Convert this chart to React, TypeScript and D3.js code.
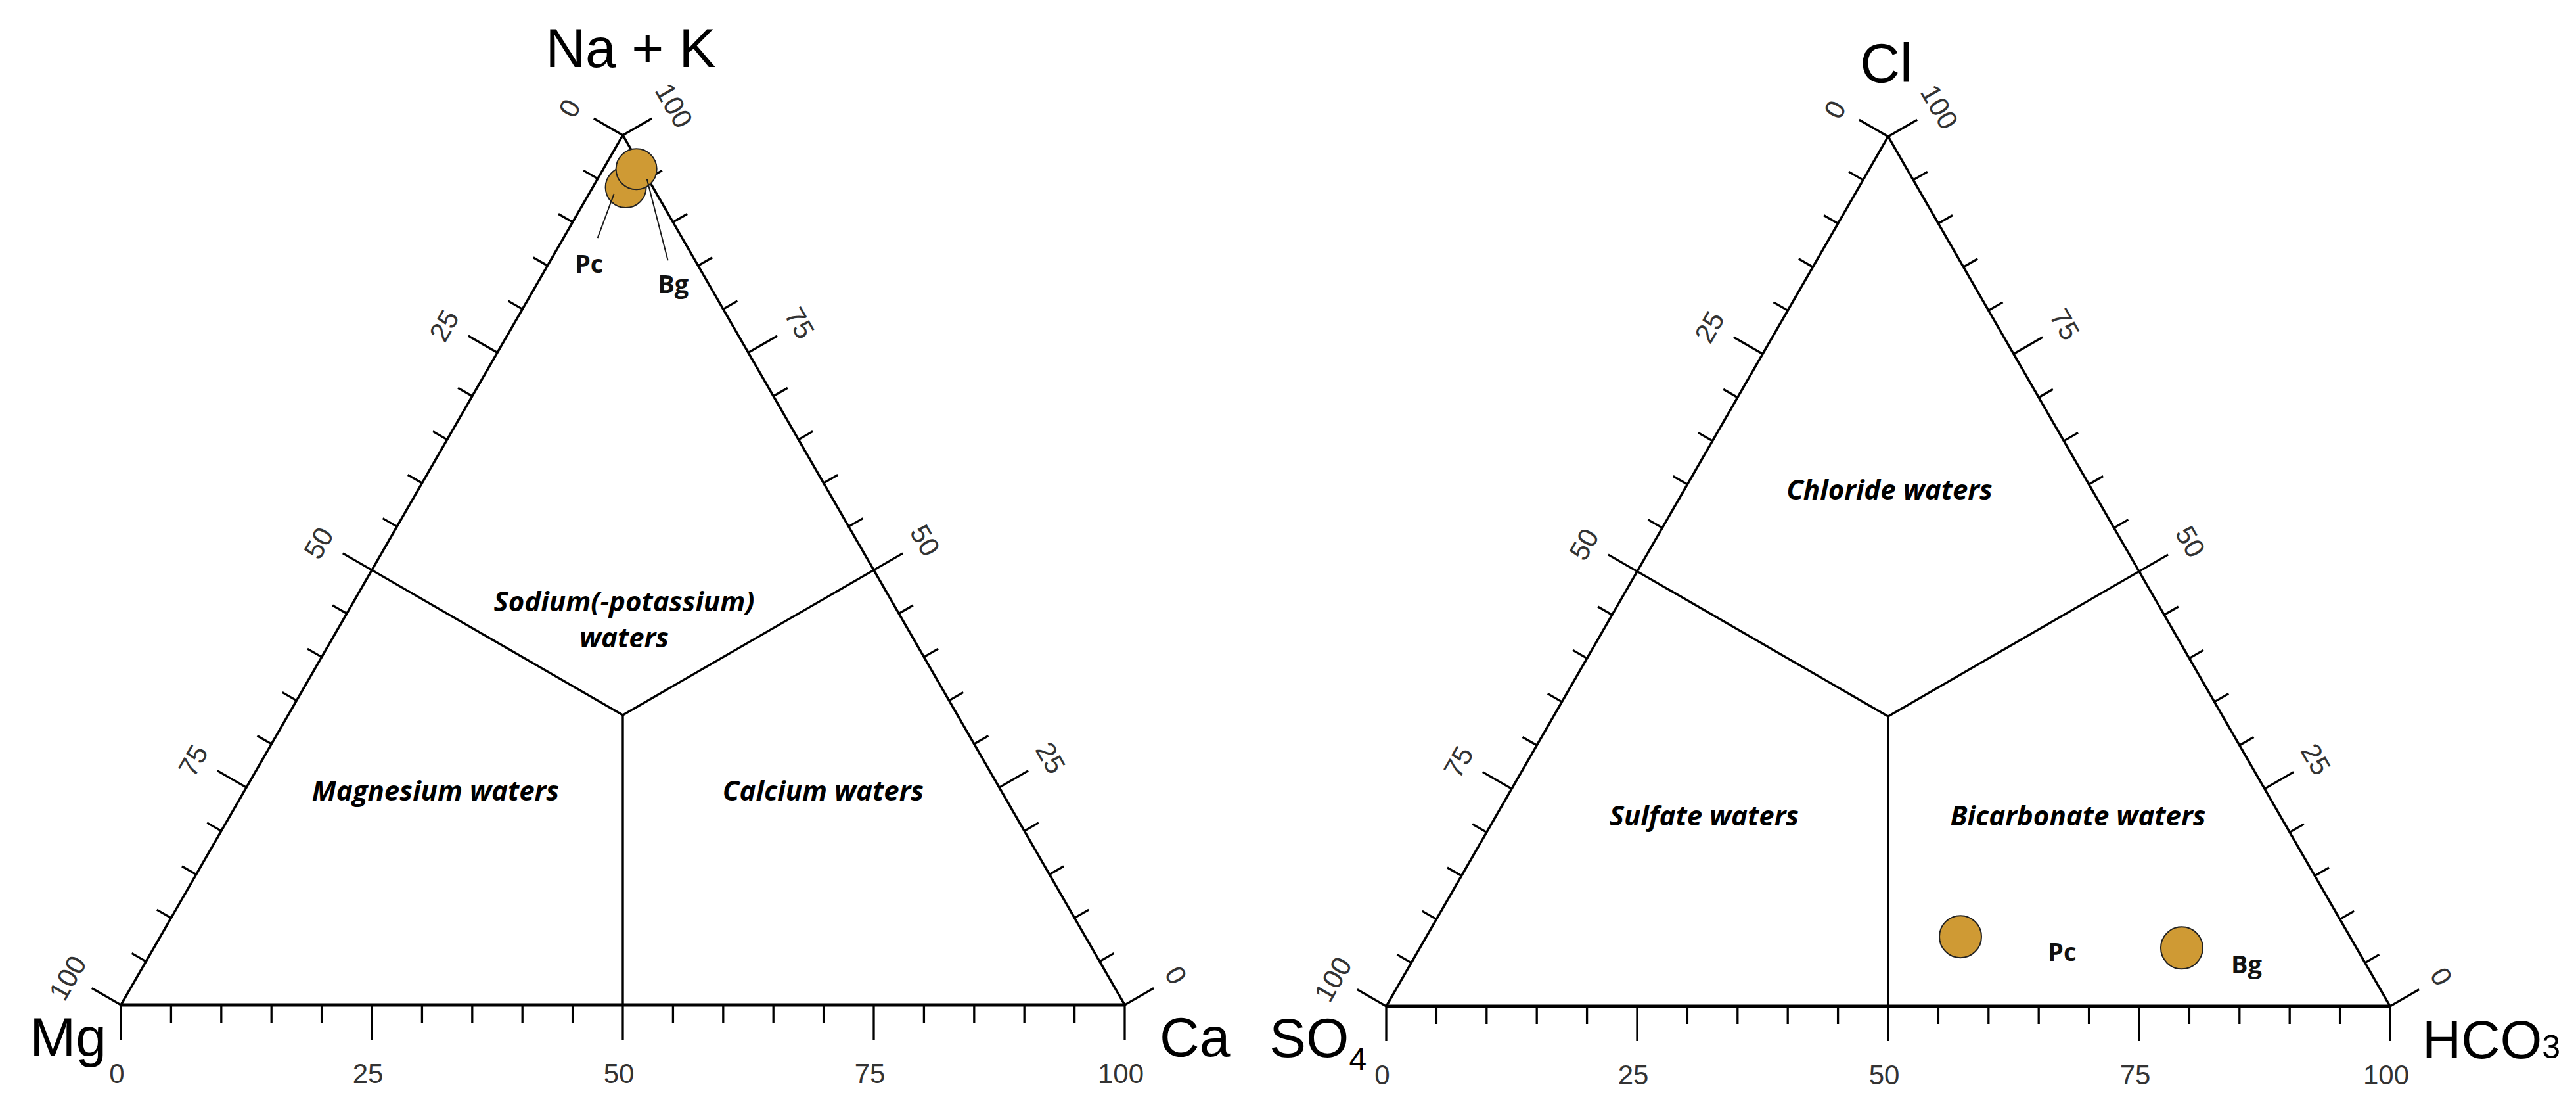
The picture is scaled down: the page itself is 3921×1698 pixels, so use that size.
import React from "react";
import * as d3 from "d3";

// ---------- data ----------
const majorTicks = [0, 25, 50, 75, 100];
const minorTicks = d3.range(0, 101, 5);

// cation panel (Na+K top, Mg bottom-left, Ca bottom-right), %
const cationSamples = ["Pc", "Bg"];
const cationNaK = [94.0, 96.1];
const cationCa = [3.3, 3.3];
const cationMg = [2.7, 0.6];

// anion panel (Cl top, SO4 bottom-left, HCO3 bottom-right), %
const anionSamples = ["Pc", "Bg"];
const anionCl = [8.0, 6.7];
const anionHCO3 = [53.2, 75.9];
const anionSO4 = [38.8, 17.4];

const cationRegions = [["Sodium(-potassium)", "waters"], ["Magnesium waters"], ["Calcium waters"]];
const anionRegions = [["Chloride waters"], ["Sulfate waters"], ["Bicarbonate waters"]];

// ---------- layout ----------
const W = 3921;
const H = 1698;
const SIDE = 1528;
const HT = (SIDE * Math.sqrt(3)) / 2;
const MAJOR = 51;
const MINOR = 25;
const LABEL_OFF = 90;
const SANS = "'Liberation Sans', Arial, sans-serif";
const LABF = "'Open Sans', sans-serif";
const POINT_FILL = "#CF9A34";

type Pt = [number, number];

function makePanel(blx: number, bly: number) {
  const s = d3.scaleLinear().domain([0, 100]).range([0, SIDE]);
  const h = d3.scaleLinear().domain([0, 100]).range([0, HT]);
  const BL: Pt = [blx, bly];
  const BR: Pt = [blx + SIDE, bly];
  const TOP: Pt = [blx + SIDE / 2, bly - HT];
  // a = top %, c = right %
  const proj = (a: number, c: number): Pt => [blx + s(c) + s(a) / 2, bly - h(a)];
  return { BL, BR, TOP, proj };
}

const cationPanel = makePanel(184, 1529);
const anionPanel = makePanel(2110, 1531);

const regionPos = {
  cation: [
    [[950, 930], [950, 985]],
    [[663, 1218]],
    [[1253, 1218]],
  ],
  anion: [
    [[2876, 760]],
    [[2594, 1256]],
    [[3163, 1256]],
  ],
};

const lerp = (p: Pt, q: Pt, t: number): Pt => [p[0] + (q[0] - p[0]) * t, p[1] + (q[1] - p[1]) * t];

function Axes({ panel }: { panel: ReturnType<typeof makePanel> }) {
  const { BL, BR, TOP, proj } = panel;
  const nL: Pt = [-Math.sqrt(3) / 2, -0.5]; // outward normal left edge
  const nR: Pt = [Math.sqrt(3) / 2, -0.5]; // outward normal right edge
  const els: React.ReactNode[] = [];
  const line = d3.line();
  // triangle sides
  els.push(<path key="l" d={line([BL, TOP])!} stroke="#000" strokeWidth={3.6} fill="none" />);
  els.push(<path key="r" d={line([TOP, BR])!} stroke="#000" strokeWidth={3.6} fill="none" />);
  els.push(<path key="b" d={line([BL, BR])!} stroke="#000" strokeWidth={4.8} fill="none" />);
  // dividers
  const C = proj(100 / 3, 100 / 3);
  const mL = lerp(TOP, BL, 0.5);
  const mR = lerp(TOP, BR, 0.5);
  const mB = lerp(BL, BR, 0.5);
  els.push(<path key="d" d={line([mL, C])! + line([mR, C])! + line([C, mB])!} stroke="#000" strokeWidth={3.4} fill="none" />);
  minorTicks.forEach((v) => {
    const len = v % 25 === 0 ? MAJOR : MINOR;
    const pl = lerp(TOP, BL, v / 100);
    els.push(<line key={"tl" + v} x1={pl[0]} y1={pl[1]} x2={pl[0] + nL[0] * len} y2={pl[1] + nL[1] * len} stroke="#000" strokeWidth={3.3} />);
    const pr = lerp(BR, TOP, v / 100);
    els.push(<line key={"tr" + v} x1={pr[0]} y1={pr[1]} x2={pr[0] + nR[0] * len} y2={pr[1] + nR[1] * len} stroke="#000" strokeWidth={3.3} />);
    const pb = lerp(BL, BR, v / 100);
    els.push(<line key={"tb" + v} x1={pb[0]} y1={pb[1]} x2={pb[0]} y2={pb[1] + len + 2} stroke="#000" strokeWidth={3.3} />);
  });
  majorTicks.forEach((v) => {
    const pl = lerp(TOP, BL, v / 100);
    const lx = pl[0] + nL[0] * LABEL_OFF - 3;
    const ly = pl[1] + nL[1] * LABEL_OFF + 4;
    els.push(
      <text key={"ll" + v} x={lx} y={ly} transform={`rotate(-60 ${lx} ${ly})`} textAnchor="middle" dominantBaseline="central" fontFamily={SANS} fontSize={42} fill="#333">
        {v}
      </text>
    );
    const pr = lerp(BR, TOP, v / 100);
    const rx = pr[0] + nR[0] * LABEL_OFF;
    const ry = pr[1] + nR[1] * LABEL_OFF;
    els.push(
      <text key={"lr" + v} x={rx} y={ry} transform={`rotate(60 ${rx} ${ry})`} textAnchor="middle" dominantBaseline="central" fontFamily={SANS} fontSize={42} fill="#333">
        {v}
      </text>
    );
    const pb = lerp(BL, BR, v / 100);
    els.push(
      <text key={"lb" + v} x={pb[0] - 6} y={pb[1] + 119} textAnchor="middle" fontFamily={SANS} fontSize={42} fill="#333">
        {v}
      </text>
    );
  });
  return <g>{els}</g>;
}

function Regions({ names, pos }: { names: string[][]; pos: number[][][] }) {
  return (
    <g>
      {names.map((lines, i) =>
        lines.map((t, j) => (
          <text key={i + "-" + j} x={pos[i][j][0]} y={pos[i][j][1]} textAnchor="middle" fontFamily={LABF} fontWeight={700} fontStyle="italic" fontSize={42} fill="#000">
            {t}
          </text>
        ))
      )}
    </g>
  );
}

export default function App() {
  const cp = cationPanel;
  const ap = anionPanel;
  const cPts = cationSamples.map((n, i) => ({ n, p: cp.proj(cationNaK[i], cationCa[i]), mg: cationMg[i] }));
  const aPts = anionSamples.map((n, i) => ({ n, p: ap.proj(anionCl[i], anionHCO3[i]), so4: anionSO4[i] }));
  // annotation offsets (label & leader) relative to each point
  const cAnn = [
    { lx: -56, ly: 130, a: [-18, 10], b: [-43, 77] },
    { lx: 56, ly: 189, a: [16, 15], b: [48, 139] },
  ];
  const aAnn = [
    { lx: 133, ly: 37 },
    { lx: 75, ly: 39 },
  ];
  return (
    <div style={{ position: "absolute", left: 0, top: 0, width: W, height: H, background: "#fff" }}>
      <svg width={W} height={H} viewBox={`0 0 ${W} ${H}`} style={{ display: "block" }}>
        <rect width={W} height={H} fill="#fff" />
        <Axes panel={cp} />
        <Axes panel={ap} />
        <Regions names={cationRegions} pos={regionPos.cation} />
        <Regions names={anionRegions} pos={regionPos.anion} />

        {/* vertex labels */}
        <text x={960} y={102} textAnchor="middle" fontFamily={SANS} fontSize={84} fill="#000">Na + K</text>
        <text x={162} y={1607} textAnchor="end" fontFamily={SANS} fontSize={84} fill="#000">Mg</text>
        <text x={1765} y={1607} textAnchor="start" fontFamily={SANS} fontSize={84} fill="#000">Ca</text>
        <text x={2871} y={125} textAnchor="middle" fontFamily={SANS} fontSize={84} fill="#000">Cl</text>
        <text x={1932} y={1608} textAnchor="start" fontFamily={SANS} fontSize={84} fill="#000">
          SO<tspan fontSize={48} dy={20}>4</tspan>
        </text>
        <text x={3687} y={1610} textAnchor="start" fontFamily={SANS} fontSize={82} fill="#000">
          HCO<tspan fontSize={50}>3</tspan>
        </text>

        {/* cation points */}
        {cPts.map((d) => (
          <circle key={d.n} cx={d.p[0]} cy={d.p[1]} r={31} fill={POINT_FILL} stroke="#222" strokeWidth={2} />
        ))}
        {cPts.map((d, i) => (
          <g key={"ca" + d.n}>
            <line x1={d.p[0] + cAnn[i].a[0]} y1={d.p[1] + cAnn[i].a[1]} x2={d.p[0] + cAnn[i].b[0]} y2={d.p[1] + cAnn[i].b[1]} stroke="#1a1a1a" strokeWidth={2} />
            <text x={d.p[0] + cAnn[i].lx} y={d.p[1] + cAnn[i].ly} textAnchor="middle" fontFamily={LABF} fontWeight={700} fontSize={38} fill="#111">
              {d.n}
            </text>
          </g>
        ))}

        {/* anion points */}
        {aPts.map((d) => (
          <circle key={d.n} cx={d.p[0]} cy={d.p[1]} r={32} fill={POINT_FILL} stroke="#222" strokeWidth={2} />
        ))}
        {aPts.map((d, i) => (
          <text key={"al" + d.n} x={d.p[0] + aAnn[i].lx} y={d.p[1] + aAnn[i].ly} textAnchor="start" fontFamily={LABF} fontWeight={700} fontSize={38} fill="#111">
            {d.n}
          </text>
        ))}
      </svg>
    </div>
  );
}
